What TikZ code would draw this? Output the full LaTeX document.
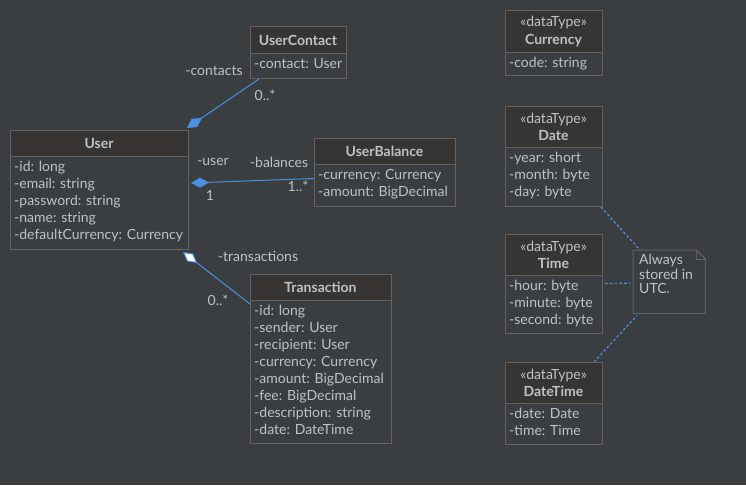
\documentclass[tikz,border=0pt]{standalone}
\usepackage{fontspec}
\setmainfont{Lato}
\usetikzlibrary{arrows.meta,calc}
\definecolor{bgcol}{RGB}{59,62,65}
\definecolor{headcol}{RGB}{55,53,52}
\definecolor{bordcol}{RGB}{98,98,98}
\definecolor{txtcol}{RGB}{190,194,198}
\definecolor{linkcol}{RGB}{74,144,226}
\tikzset{
  boxframe/.style={draw=bordcol, line width=1pt, inner sep=0pt, anchor=north west},
  rowtext/.style={anchor=north west, inner sep=0pt, align=left, text=txtcol, font=\fontsize{14}{17}\selectfont},
  headtext/.style={inner sep=0pt, align=center, text=txtcol, font=\fontsize{14}{17.5}\selectfont},
  lbl/.style={inner sep=0pt, text=txtcol, font=\fontsize{14}{16}\selectfont},
  assoc/.style={draw=linkcol, line width=1pt},
  comp/.style={assoc, -{Diamond[length=18pt,width=10pt,fill=linkcol]}},
  aggr/.style={assoc, -{Diamond[length=18pt,width=10pt,fill=white]}},
  noteline/.style={draw=linkcol, line width=1.2pt, dash pattern=on 2.6pt off 2.2pt},
}
% name, x1, y1, x2, y2, yh, title, rows
\newcommand\umlclass[8]{%
  \node[boxframe, fill=bgcol, minimum width={#4pt-#2pt}, minimum height={#5pt-#3pt}] (#1) at (#2,#3) {};
  \fill[headcol] (#2,#3) rectangle (#4,#6);
  \draw[bordcol, line width=1pt] (#2,#3) rectangle (#4,#5);
  \draw[bordcol, line width=1pt] (#2,#6) -- (#4,#6);
  \node[headtext] (#1-title) at ({(#2+#4)/2},{(#3+#6)/2+0.5}) {#7};
  \node[rowtext] (#1-rows) at (#2+4,#6+5) {#8};
}
\begin{document}
\begin{tikzpicture}[x=1pt,y=-1pt]
\fill[bgcol] (0,0) rectangle (746,485);
\useasboundingbox (0,0) rectangle (746,485);

\umlclass{user}{10}{130}{188}{249}{156}{\textbf{User}}{-id: long\\-email: string\\-password: string\\-name: string\\-defaultCurrency: Currency}
\umlclass{contact}{250}{26}{346}{78}{53}{\textbf{UserContact}}{-contact: User}
\umlclass{balance}{314}{138}{455}{206}{164}{\textbf{UserBalance}}{-currency: Currency\\-amount: BigDecimal}
\umlclass{trans}{250}{274}{391}{443}{300}{\textbf{Transaction}}{-id: long\\-sender: User\\-recipient: User\\-currency: Currency\\-amount: BigDecimal\\-fee: BigDecimal\\-description: string\\-date: DateTime}
\umlclass{currency}{505}{10}{602}{75}{52}{«dataType»\\\textbf{Currency}}{-code: string}
\umlclass{date}{505}{106}{602}{206}{147}{«dataType»\\\textbf{Date}}{-year: short\\-month: byte\\-day: byte}
\umlclass{time}{505}{234}{602}{333}{275}{«dataType»\\\textbf{Time}}{-hour: byte\\-minute: byte\\-second: byte}
\umlclass{datetime}{505}{362}{602}{444}{403}{«dataType»\\\textbf{DateTime}}{-date: Date\\-time: Time}

% note
\node[inner sep=0pt, minimum width=72pt, minimum height=63pt, anchor=north west] (note) at (633,250) {};
\draw[bordcol, line width=1pt, fill=bgcol] (note.north west) -- ($(note.north east)+(-9,0)$) -- ($(note.north east)+(0,9)$) -- (note.south east) -- (note.south west) -- cycle;
\draw[bordcol, line width=0.6pt] ($(note.north east)+(-9,0)$) -- ($(note.north east)+(-9,9)$) -- ($(note.north east)+(0,9)$);
\node[rowtext, font=\fontsize{14}{14.5}\selectfont] (notetext) at (639,254) {Always\\stored in\\UTC.};

% associations
\draw[comp] ($(contact.south west)+(9,0)$) -- ($(user.north east)+(-2,-2)$);
\node[lbl] (l-contacts) at (214,71) {-contacts};
\node[lbl] (l-contact-m) at (265,95) {0..*};

\draw[comp] ($(balance.west)+(0,6)$) -- ($(user.north east)+(2,53)$);
\node[lbl] (l-user) at (213,162) {-user};
\node[lbl] (l-balances) at (279,162) {-balances};
\node[lbl] (l-one) at (210,195) {1};
\node[lbl] (l-bal-m) at (298,186) {1..*};

\draw[aggr] ($(trans.north west)+(0,30)$) -- ($(user.south east)+(-6,2)$);
\node[lbl] (l-trans) at (258,256) {-transactions};
\node[lbl] (l-trans-m) at (218,300) {0..*};

% note links
\draw[noteline] ($(date.south east)+(-2,0)$) -- ($(note.north west)+(7,0)$);
\draw[noteline] ($(time.east)+(2,-0.5)$) -- ($(note.west)+(-3,1.5)$);
\draw[noteline] ($(datetime.north east)+(-9,0)$) -- ($(note.south west)+(4,2)$);
\end{tikzpicture}
\end{document}
